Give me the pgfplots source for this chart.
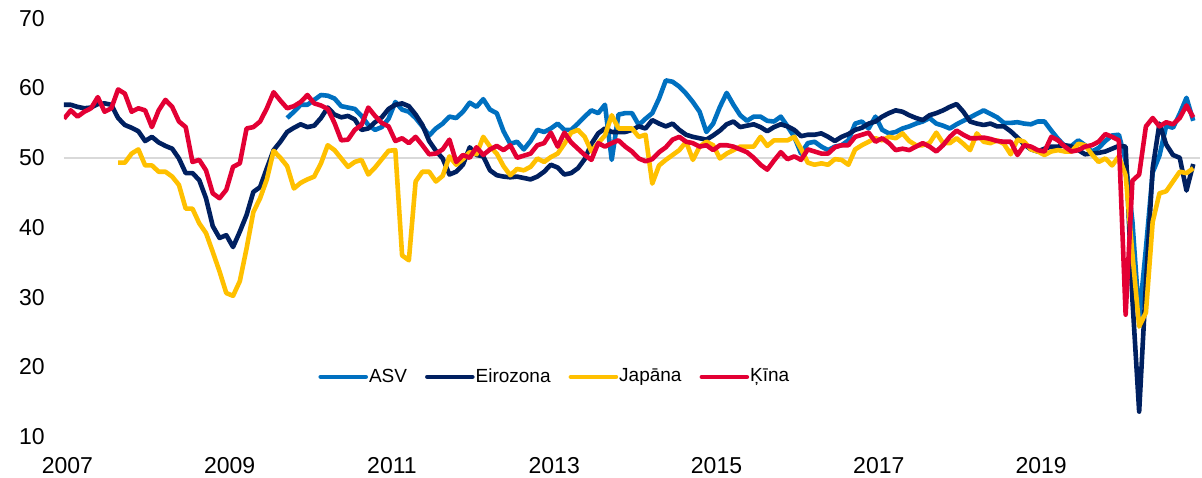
\documentclass[border=0pt]{standalone}
\usepackage{fontspec}
\setmainfont{Liberation Sans}
\usepackage{pgfplots}
\pgfplotsset{compat=1.18}
\definecolor{asv}{RGB}{0,112,192}
\definecolor{ez}{RGB}{0,32,96}
\definecolor{jp}{RGB}{255,192,0}
\definecolor{cn}{RGB}{227,0,52}
\definecolor{gridc}{RGB}{217,217,217}
\begin{document}
\begin{tikzpicture}
\begin{axis}[
  scale only axis, width=568pt, height=209.2pt,
  at={(0,0)}, anchor=south west,
  xmin=0, xmax=168, ymin=10, ymax=70,
  axis line style={draw=none},
  major tick length=0pt, tick style={draw=none},
  ytick={10,20,...,70},
  xtick={0.5,24.5,48.5,72.5,96.5,120.5,144.5},
  xticklabels={2007,2009,2011,2013,2015,2017,2019},
  extra y ticks={50}, extra y tick labels={},
  extra y tick style={ymajorgrids=true, major grid style={draw=gridc, line width=1pt}},
  /pgf/number format/assume math mode=true,
  tick label style={font=\fontsize{11.5}{13}\selectfont, inner sep=0pt},
  yticklabel style={anchor=east, xshift=-9.5pt},
  xticklabel style={anchor=north, yshift=-10pt},
  every axis plot/.append style={line width=2.3pt, line join=round, no markers},
  legend columns=-1,
  legend image code/.code={\draw[#1, line cap=round] (0pt,0pt) -- (22.5pt,0pt);},
  legend style={at={(0.2236,0.143)}, anchor=west, draw=none, fill=none,
    inner sep=0pt, column sep=0.5pt, nodes={inner sep=0pt},
    /tikz/every even column/.append style={column sep=9pt},
    font=\fontsize{9.5}{11}\selectfont},
]
\addplot[asv] coordinates {
(33,55.7)(34,56.6)(35,57.6)(36,57.6)(37,58.3)(38,59.0)(39,58.9)(40,58.5)(41,57.4)(42,57.2)
(43,57.0)(44,56.0)(45,54.7)(46,54.0)(47,54.4)(48,55.6)(49,58.0)(50,56.9)(51,56.6)(52,55.7)
(53,54.5)(54,53.2)(55,54.2)(56,54.9)(57,55.9)(58,55.7)(59,56.6)(60,57.9)(61,57.3)(62,58.4)
(63,56.9)(64,56.4)(65,53.8)(66,52.0)(67,52.3)(68,51.2)(69,52.4)(70,54.0)(71,53.7)(72,54.2)
(73,54.9)(74,54.0)(75,54.0)(76,54.9)(77,55.9)(78,56.8)(79,56.4)(80,57.6)(81,49.7)(82,56.2)
(83,56.4)(84,56.4)(85,54.7)(86,55.6)(87,56.4)(88,58.5)(89,61.1)(90,60.9)(91,60.2)(92,59.2)
(93,58.0)(94,56.6)(95,53.7)(96,54.9)(97,57.3)(98,59.3)(99,57.6)(100,56.1)(101,55.3)(102,55.9)
(103,55.9)(104,55.3)(105,55.2)(106,55.9)(107,54.5)(108,53.0)(109,50.6)(110,52.1)(111,52.3)(112,51.6)
(113,51.1)(114,51.6)(115,51.8)(116,52.5)(117,54.9)(118,55.2)(119,54.2)(120,55.9)(121,54.0)(122,53.5)
(123,53.7)(124,54.2)(125,54.5)(126,54.9)(127,55.2)(128,55.7)(129,54.9)(130,54.6)(131,54.2)(132,54.8)
(133,55.3)(134,55.8)(135,56.3)(136,56.8)(137,56.3)(138,55.8)(139,55.0)(140,55.0)(141,55.1)(142,54.9)
(143,54.8)(144,55.2)(145,55.2)(146,53.9)(147,52.7)(148,51.7)(149,51.7)(150,52.5)(151,51.8)(152,50.9)
(153,51.4)(154,52.4)(155,53.2)(156,53.3)(157,49.6)(158,40.9)(159,27.0)(160,37.0)(161,47.9)(162,50.3)
(163,54.6)(164,54.3)(165,56.3)(166,58.6)(167,55.3)
};
\addlegendentry{ASV}
\addplot[ez] coordinates {
(0,57.6)(1,57.6)(2,57.3)(3,57.1)(4,57.2)(5,57.7)(6,57.8)(7,57.6)(8,55.7)(9,54.7)
(10,54.3)(11,53.8)(12,52.4)(13,53.0)(14,52.2)(15,51.7)(16,51.3)(17,49.9)(18,47.8)(19,47.8)
(20,46.8)(21,44.2)(22,40.2)(23,38.5)(24,38.9)(25,37.2)(26,39.4)(27,41.8)(28,45.1)(29,45.8)
(30,48.5)(31,51.1)(32,52.3)(33,53.7)(34,54.3)(35,54.8)(36,54.4)(37,54.6)(38,55.7)(39,57.2)
(40,56.2)(41,55.8)(42,56.0)(43,55.5)(44,54.0)(45,54.2)(46,55.1)(47,55.8)(48,57.0)(49,57.6)
(50,57.8)(51,57.4)(52,56.2)(53,54.7)(54,52.4)(55,51.0)(56,49.9)(57,47.6)(58,48.0)(59,49.0)
(60,51.5)(61,50.4)(62,50.2)(63,48.2)(64,47.5)(65,47.3)(66,47.2)(67,47.3)(68,47.1)(69,46.9)
(70,47.3)(71,48.0)(72,49.0)(73,48.6)(74,47.6)(75,47.8)(76,48.5)(77,49.8)(78,52.0)(79,53.5)
(80,54.2)(81,53.7)(82,53.7)(83,53.7)(84,54.0)(85,54.5)(86,54.2)(87,55.4)(88,54.9)(89,54.5)
(90,54.9)(91,54.0)(92,53.3)(93,53.0)(94,52.8)(95,52.6)(96,53.2)(97,53.9)(98,54.8)(99,55.2)
(100,54.4)(101,54.6)(102,54.8)(103,54.4)(104,53.8)(105,54.4)(106,54.8)(107,54.5)(108,54.0)(109,53.1)
(110,53.3)(111,53.3)(112,53.5)(113,53.0)(114,52.4)(115,53.0)(116,53.4)(117,54.0)(118,54.3)(119,54.9)
(120,55.2)(121,55.9)(122,56.4)(123,56.8)(124,56.6)(125,56.1)(126,55.7)(127,55.4)(128,56.1)(129,56.4)
(130,56.8)(131,57.3)(132,57.7)(133,56.6)(134,55.2)(135,54.9)(136,54.7)(137,54.9)(138,54.5)(139,54.5)
(140,53.8)(141,52.9)(142,51.9)(143,51.2)(144,50.9)(145,51.3)(146,51.6)(147,51.6)(148,51.8)(149,51.6)
(150,51.1)(151,50.5)(152,50.6)(153,50.7)(154,50.9)(155,51.3)(156,51.7)(157,51.6)(158,29.7)(159,13.6)
(160,31.9)(161,48.5)(162,54.9)(163,51.9)(164,50.4)(165,50.0)(166,45.3)(167,49.1)
};
\addlegendentry{Eirozona}
\addplot[jp] coordinates {
(8,49.3)(9,49.3)(10,50.6)(11,51.2)(12,48.9)(13,48.9)(14,48.0)(15,48.0)(16,47.3)(17,46.1)
(18,42.7)(19,42.7)(20,40.6)(21,39.2)(22,36.5)(23,33.7)(24,30.6)(25,30.2)(26,32.3)(27,37.0)
(28,42.2)(29,44.2)(30,46.9)(31,51.0)(32,50.0)(33,48.8)(34,45.6)(35,46.4)(36,46.9)(37,47.3)
(38,49.2)(39,51.8)(40,51.1)(41,49.9)(42,48.7)(43,49.4)(44,49.7)(45,47.6)(46,48.6)(47,49.8)
(48,51.0)(49,51.1)(50,36.0)(51,35.3)(52,46.6)(53,48.0)(54,48.0)(55,46.6)(56,47.4)(57,50.2)
(58,49.0)(59,49.8)(60,50.8)(61,50.5)(62,53.0)(63,51.6)(64,50.6)(65,48.8)(66,47.5)(67,48.4)
(68,48.2)(69,48.7)(70,49.9)(71,49.4)(72,50.1)(73,50.6)(74,52.0)(75,53.6)(76,54.0)(77,53.0)
(78,50.9)(79,52.1)(80,53.2)(81,56.1)(82,54.2)(83,54.2)(84,54.2)(85,53.0)(86,53.3)(87,46.3)
(88,48.9)(89,49.7)(90,50.4)(91,51.1)(92,52.3)(93,49.7)(94,51.6)(95,52.3)(96,51.8)(97,49.9)
(98,50.6)(99,51.1)(100,51.6)(101,51.6)(102,51.6)(103,53.0)(104,51.7)(105,52.5)(106,52.5)(107,52.5)
(108,53.0)(109,51.3)(110,49.3)(111,49.0)(112,49.2)(113,49.0)(114,49.8)(115,49.7)(116,49.0)(117,51.2)
(118,51.8)(119,52.3)(120,52.8)(121,52.5)(122,53.0)(123,52.8)(124,53.5)(125,52.4)(126,51.8)(127,51.8)
(128,52.1)(129,53.6)(130,52.1)(131,52.1)(132,52.8)(133,52.0)(134,51.1)(135,53.5)(136,52.3)(137,52.1)
(138,52.5)(139,52.0)(140,50.5)(141,52.6)(142,52.3)(143,51.2)(144,50.9)(145,50.4)(146,50.9)(147,51.1)
(148,50.9)(149,50.9)(150,52.0)(151,51.8)(152,50.5)(153,49.4)(154,49.9)(155,48.9)(156,50.2)(157,47.5)
(158,36.2)(159,25.8)(160,27.8)(161,40.8)(162,44.9)(163,45.2)(164,46.6)(165,48.0)(166,47.8)(167,48.5)
};
\addlegendentry{Japāna}
\addplot[cn] coordinates {
(0,55.6)(1,56.8)(2,55.9)(3,56.6)(4,57.1)(5,58.7)(6,56.6)(7,57.1)(8,59.8)(9,59.2)
(10,56.6)(11,57.1)(12,56.8)(13,54.4)(14,56.8)(15,58.3)(16,57.3)(17,55.2)(18,54.4)(19,49.4)
(20,49.7)(21,48.2)(22,44.9)(23,44.2)(24,45.4)(25,48.7)(26,49.2)(27,54.2)(28,54.4)(29,55.2)
(30,57.1)(31,59.4)(32,58.2)(33,57.1)(34,57.4)(35,58.0)(36,59.0)(37,57.8)(38,57.5)(39,57.0)
(40,55.0)(41,52.5)(42,52.6)(43,54.0)(44,54.7)(45,57.2)(46,56.0)(47,55.0)(48,54.5)(49,52.4)
(50,52.8)(51,52.1)(52,53.0)(53,51.8)(54,50.5)(55,50.6)(56,51.2)(57,52.6)(58,49.4)(59,50.4)
(60,50.0)(61,51.5)(62,50.4)(63,51.2)(64,51.7)(65,51.1)(66,51.8)(67,50.0)(68,50.3)(69,50.6)
(70,51.8)(71,52.1)(72,53.6)(73,51.6)(74,53.6)(75,52.2)(76,51.3)(77,50.4)(78,49.7)(79,52.1)
(80,51.6)(81,52.1)(82,52.5)(83,51.6)(84,50.9)(85,49.9)(86,49.5)(87,49.8)(88,50.8)(89,51.5)
(90,52.6)(91,53.0)(92,52.3)(93,52.1)(94,51.6)(95,51.8)(96,51.1)(97,51.8)(98,51.8)(99,51.6)
(100,51.2)(101,50.8)(102,50.0)(103,49.0)(104,48.3)(105,49.6)(106,50.8)(107,49.8)(108,50.2)(109,49.7)
(110,51.2)(111,50.9)(112,50.6)(113,50.6)(114,51.5)(115,51.8)(116,51.8)(117,53.0)(118,53.3)(119,53.6)
(120,52.3)(121,52.8)(122,52.1)(123,51.1)(124,51.3)(125,51.1)(126,51.6)(127,52.1)(128,51.6)(129,50.9)
(130,51.8)(131,53.0)(132,53.9)(133,53.3)(134,52.8)(135,52.8)(136,52.9)(137,52.7)(138,52.4)(139,52.3)
(140,52.3)(141,50.4)(142,51.8)(143,51.6)(144,51.1)(145,50.9)(146,53.0)(147,52.5)(148,51.6)(149,50.9)
(150,51.1)(151,51.6)(152,51.8)(153,52.3)(154,53.4)(155,53.0)(156,52.5)(157,27.5)(158,46.7)(159,47.6)
(160,54.5)(161,55.7)(162,54.5)(163,55.1)(164,54.8)(165,55.7)(166,57.5)(167,55.8)
};
\addlegendentry{Ķīna}
\end{axis}
\pgfresetboundingbox
\path[use as bounding box] (-32pt,-20.15pt) rectangle (569pt,218.35pt);
\end{tikzpicture}
\end{document}
